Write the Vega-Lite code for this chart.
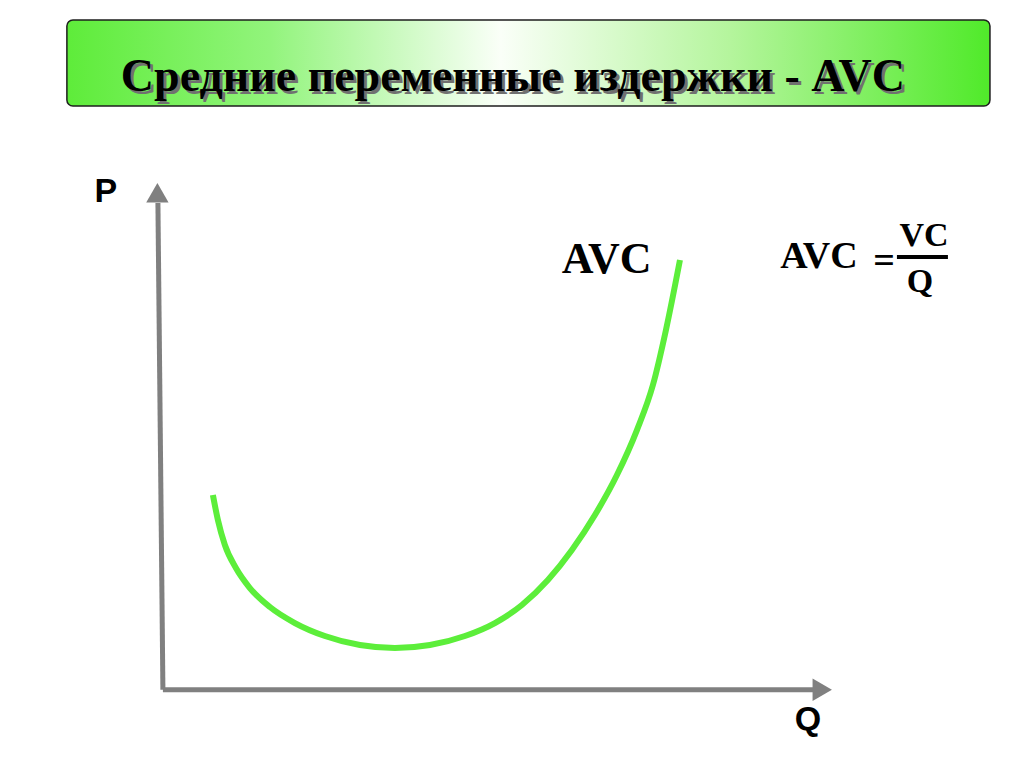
{
  "$schema": "https://vega.github.io/schema/vega-lite/v6.json",
  "width": 1024,
  "height": 768,
  "autosize": {"type": "fit", "contains": "padding"},
  "padding": 0,
  "background": "white",
  "config": {"view": {"stroke": null}},
  "datasets": {
    "box": [{"q1": -14.74, "q2": 124.08, "p1": 132.64, "p2": 115.61}],
    "title": [{"q": 52.34, "p": 121.35, "label": "Средние переменные издержки - AVC"}],
    "curve": [
      {"q": 7.22, "p": 38.56},
      {"q": 7.97, "p": 33.61},
      {"q": 9.02, "p": 28.66},
      {"q": 10.68, "p": 24.10},
      {"q": 12.78, "p": 20.14},
      {"q": 15.79, "p": 16.38},
      {"q": 19.55, "p": 13.21},
      {"q": 24.06, "p": 10.64},
      {"q": 29.33, "p": 8.85},
      {"q": 34.59, "p": 8.26},
      {"q": 39.86, "p": 8.85},
      {"q": 45.12, "p": 10.64},
      {"q": 49.63, "p": 13.21},
      {"q": 53.69, "p": 16.78},
      {"q": 57.60, "p": 21.73},
      {"q": 61.21, "p": 27.67},
      {"q": 64.67, "p": 34.60},
      {"q": 67.98, "p": 42.52},
      {"q": 70.99, "p": 51.43},
      {"q": 73.39, "p": 60.34},
      {"q": 75.35, "p": 71.24},
      {"q": 77.46, "p": 85.10}
    ],
    "axes": [
      {"q1": -0.30, "p1": 0, "q2": -1.05, "p2": 96.39},
      {"q1": -0.30, "p1": 0, "q2": 97.76, "p2": 0}
    ],
    "arrows": [
      {"q": -1.13, "p": 98.43, "shape": "triangle-up"},
      {"q": 98.86, "p": 0, "shape": "triangle-right"}
    ],
    "axisLabels": [
      {"q": -8.87, "p": 98.6, "label": "P"},
      {"q": 96.71, "p": -5.9, "label": "Q"}
    ],
    "serifLabels": [
      {"q": 66.43, "p": 85.1, "label": "AVC", "size": 44},
      {"q": 98.36, "p": 85.7, "label": "AVC", "size": 38},
      {"q": 108.14, "p": 84.67, "label": "=", "size": 38},
      {"q": 114.15, "p": 89.86, "label": "VC", "size": 34},
      {"q": 113.55, "p": 80.75, "label": "Q", "size": 34}
    ],
    "bar": [{"q1": 110.09, "q2": 117.76, "p": 85.7}]
  },
  "encoding": {},
  "layer": [
    {
      "data": {"name": "box"},
      "mark": {
        "type": "rect",
        "stroke": "#1e1e1e",
        "strokeWidth": 1.5,
        "cornerRadius": 6,
        "color": {
          "gradient": "linear",
          "x1": 0, "y1": 0, "x2": 1, "y2": 0,
          "stops": [
            {"offset": 0, "color": "#5EEC3A"},
            {"offset": 0.22, "color": "#92F47C"},
            {"offset": 0.47, "color": "#FAFFF8"},
            {"offset": 0.72, "color": "#B4F59C"},
            {"offset": 1, "color": "#50EA2A"}
          ]
        }
      },
      "encoding": {
        "x": {"field": "q1", "type": "quantitative", "scale": {"domain": [-24.8, 129.2], "nice": false, "zero": false}, "axis": null},
        "x2": {"field": "q2"},
        "y": {"field": "p1", "type": "quantitative", "scale": {"domain": [-15.5, 136.6], "nice": false, "zero": false}, "axis": null},
        "y2": {"field": "p2"}
      }
    },
    {
      "data": {"name": "title"},
      "mark": {"type": "text", "font": "Liberation Serif", "fontWeight": "bold", "fontSize": 46, "color": "#707070", "dx": 3, "dy": 3, "baseline": "middle", "align": "center"},
      "encoding": {
        "x": {"field": "q", "type": "quantitative"},
        "y": {"field": "p", "type": "quantitative"},
        "text": {"field": "label"}
      }
    },
    {
      "data": {"name": "title"},
      "mark": {"type": "text", "font": "Liberation Serif", "fontWeight": "bold", "fontSize": 46, "color": "#000000", "baseline": "middle", "align": "center"},
      "encoding": {
        "x": {"field": "q", "type": "quantitative"},
        "y": {"field": "p", "type": "quantitative"},
        "text": {"field": "label"}
      }
    },
    {
      "data": {"name": "axes"},
      "mark": {"type": "rule", "color": "#808080", "strokeWidth": 5},
      "encoding": {
        "x": {"field": "q1", "type": "quantitative"},
        "y": {"field": "p1", "type": "quantitative"},
        "x2": {"field": "q2"},
        "y2": {"field": "p2"}
      }
    },
    {
      "data": {"name": "arrows"},
      "mark": {"type": "point", "filled": true, "color": "#808080", "size": 500, "opacity": 1},
      "encoding": {
        "x": {"field": "q", "type": "quantitative"},
        "y": {"field": "p", "type": "quantitative"},
        "shape": {"field": "shape", "type": "nominal", "scale": null, "legend": null}
      }
    },
    {
      "data": {"name": "curve"},
      "mark": {"type": "line", "color": "#5CEE3A", "strokeWidth": 6, "interpolate": "monotone", "strokeCap": "butt"},
      "encoding": {
        "x": {"field": "q", "type": "quantitative"},
        "y": {"field": "p", "type": "quantitative"}
      }
    },
    {
      "data": {"name": "axisLabels"},
      "mark": {"type": "text", "font": "Liberation Sans", "fontWeight": "bold", "fontSize": 34, "color": "#000000", "baseline": "middle", "align": "center"},
      "encoding": {
        "x": {"field": "q", "type": "quantitative"},
        "y": {"field": "p", "type": "quantitative"},
        "text": {"field": "label"}
      }
    },
    {
      "data": {"name": "serifLabels"},
      "mark": {"type": "text", "font": "Liberation Serif", "fontWeight": "bold", "color": "#000000", "baseline": "middle", "align": "center"},
      "encoding": {
        "x": {"field": "q", "type": "quantitative"},
        "y": {"field": "p", "type": "quantitative"},
        "text": {"field": "label"},
        "size": {"field": "size", "type": "quantitative", "scale": null, "legend": null}
      }
    },
    {
      "data": {"name": "bar"},
      "mark": {"type": "rule", "color": "#000000", "strokeWidth": 4},
      "encoding": {
        "x": {"field": "q1", "type": "quantitative"},
        "x2": {"field": "q2"},
        "y": {"field": "p", "type": "quantitative"}
      }
    }
  ]
}
